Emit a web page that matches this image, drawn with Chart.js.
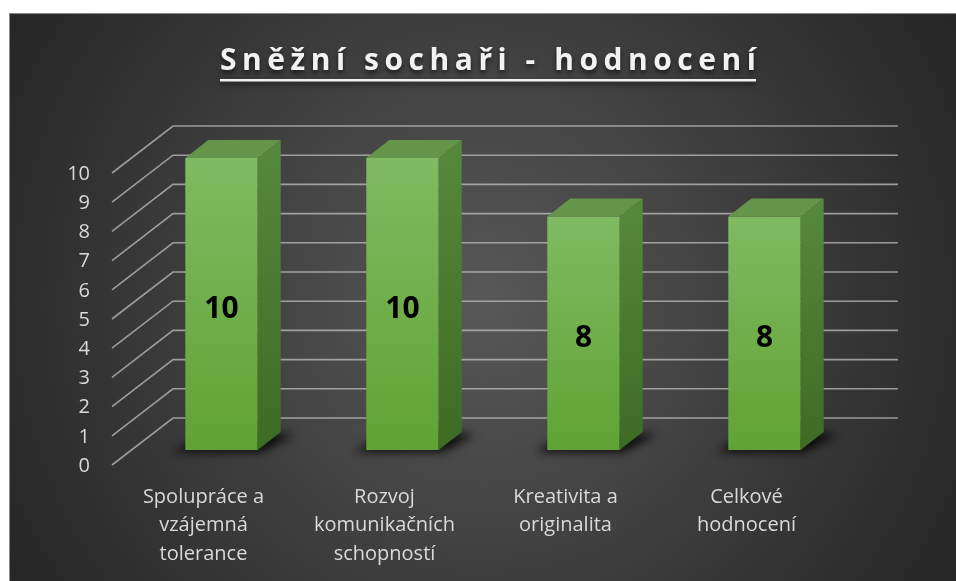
<!DOCTYPE html>
<html>
<head>
<meta charset="utf-8">
<title>Sněžní sochaři - hodnocení</title>
<script src="https://cdn.jsdelivr.net/npm/chart.js@4/dist/chart.umd.min.js"></script>
<style>
    html, body { margin: 0; padding: 0; background: #fff; overflow: hidden; }
    canvas { display: block; }
</style>
</head>
<body>
<canvas id="snowChart" width="956" height="581"></canvas>
<script>
// chart data
const chartTitle = 'Sněžní sochaři - hodnocení';
const categories = [
    ['Spolupráce a', 'vzájemná', 'tolerance'],
    ['Rozvoj', 'komunikačních', 'schopností'],
    ['Kreativita a', 'originalita'],
    ['Celkové', 'hodnocení']
];
const scores = [10, 10, 8, 8];
const yTicks = [0, 1, 2, 3, 4, 5, 6, 7, 8, 9, 10];

const FONT = "'Open Sans', 'DejaVu Sans', sans-serif";

// fake 3d: bar depth and floor depth (gridlines)
const depthX = 23, depthY = 18;
const wallX = 61, wallY = 47;

// dark radial background + white margin
const backgroundPlugin = {
    id: 'background',
    beforeDraw(chart) {
        const ctx = chart.ctx;
        const w = chart.width, h = chart.height;
        ctx.save();
        ctx.fillStyle = '#fff';
        ctx.fillRect(0, 0, w, h);
        const g = ctx.createRadialGradient(482, 300, 0, 482, 300, 560);
        g.addColorStop(0, '#585858');
        g.addColorStop(0.5, '#3e3e3e');
        g.addColorStop(0.85, '#2c2c2c');
        g.addColorStop(1, '#262626');
        ctx.fillStyle = g;
        ctx.fillRect(9, 13, w - 9, h - 13);
        ctx.strokeStyle = '#8c8c8c';
        ctx.lineWidth = 1;
        ctx.beginPath();
        ctx.moveTo(9.5, h);
        ctx.lineTo(9.5, 13.5);
        ctx.lineTo(w, 13.5);
        ctx.stroke();
        ctx.restore();
    }
};

// gridlines on floor/back wall and the shadows under the bars
const wallPlugin = {
    id: 'wall',
    beforeDatasetsDraw(chart) {
        const { ctx, chartArea: a, scales: { y } } = chart;
        ctx.save();
        ctx.strokeStyle = 'rgba(200,200,200,0.7)';
        ctx.lineWidth = 1.6;
        yTicks.forEach(v => {
            const py = y.getPixelForValue(v);
            ctx.beginPath();
            ctx.moveTo(a.left - 19, py + 15);
            ctx.lineTo(a.left - 19 + wallX, py + 15 - wallY);
            ctx.lineTo(a.right + 43, py + 15 - wallY);
            ctx.stroke();
        });

        chart.getDatasetMeta(0).data.forEach(bar => {
            const left = bar.x - bar.width / 2;
            const right = bar.x + bar.width / 2;
            const base = bar.base;
            ctx.save();
            ctx.filter = 'blur(5px)';
            ctx.fillStyle = 'rgba(0,0,0,0.85)';
            ctx.beginPath();
            ctx.moveTo(left - 12, base + 2);
            ctx.lineTo(right + 4, base + 2);
            ctx.lineTo(right + depthX + 14, base - depthY + 2);
            ctx.lineTo(left + depthX, base - depthY);
            ctx.closePath();
            ctx.fill();
            ctx.restore();
        });
        ctx.restore();
    },
    afterDatasetsDraw(chart) {
        const ctx = chart.ctx;
        chart.getDatasetMeta(0).data.forEach((bar, i) => {
            const left = bar.x - bar.width / 2;
            const right = bar.x + bar.width / 2;
            const top = bar.y, base = bar.base;
            ctx.save();
            // side face
            const sg = ctx.createLinearGradient(0, top, 0, base);
            sg.addColorStop(0, '#55873c');
            sg.addColorStop(1, '#3e6b24');
            ctx.fillStyle = sg;
            ctx.beginPath();
            ctx.moveTo(right, top);
            ctx.lineTo(right + depthX, top - depthY);
            ctx.lineTo(right + depthX, base - depthY);
            ctx.lineTo(right, base);
            ctx.closePath();
            ctx.fill();
            // top face
            ctx.fillStyle = '#65954a';
            ctx.beginPath();
            ctx.moveTo(left, top);
            ctx.lineTo(left + depthX, top - depthY);
            ctx.lineTo(right + depthX, top - depthY);
            ctx.lineTo(right, top);
            ctx.closePath();
            ctx.fill();
            // value label
            ctx.fillStyle = '#000';
            ctx.font = 'bold 30px ' + FONT;
            ctx.textAlign = 'center';
            ctx.textBaseline = 'middle';
            ctx.fillText(String(scores[i]), bar.x, (top + base) / 2 + 5);
            ctx.restore();
        });
    },
    afterDraw(chart) {
        // underlined title with letter spacing
        const ctx = chart.ctx;
        const cx = 488, baseline = 69.5, targetWidth = 536;
        ctx.save();
        ctx.font = 'bold 30px ' + FONT;
        ctx.letterSpacing = '0px';
        const w0 = ctx.measureText(chartTitle).width;
        const sp = (targetWidth - w0) / (chartTitle.length - 1);
        ctx.letterSpacing = sp + 'px';
        const x0 = cx - targetWidth / 2;
        ctx.shadowColor = 'rgba(0,0,0,0.6)';
        ctx.shadowBlur = 5;
        ctx.shadowOffsetY = 3;
        ctx.fillStyle = '#f2f2f2';
        ctx.textAlign = 'left';
        ctx.textBaseline = 'alphabetic';
        ctx.fillText(chartTitle, x0, baseline);
        ctx.fillRect(x0, 79, targetWidth, 2.5);
        ctx.restore();
    }
};

function frontColor(c) {
    const chart = c.chart;
    const y = chart.scales.y;
    if (!chart.chartArea || !y) return '#6aad45';
    const top = y.getPixelForValue(c.raw);
    const base = y.getPixelForValue(0);
    const g = chart.ctx.createLinearGradient(0, top, 0, base);
    g.addColorStop(0, '#80ba62');
    g.addColorStop(1, '#60a334');
    return g;
}

const ctx = document.getElementById('snowChart');
const snowChart = new Chart(ctx, {
    type: 'bar',
    data: {
        labels: categories,
        datasets: [{
            label: 'Hodnocení',
            data: scores,
            backgroundColor: frontColor,
            borderWidth: 0,
            barPercentage: 0.4,
            categoryPercentage: 1
        }]
    },
    options: {
        responsive: false,
        animation: false,
        layout: { padding: { top: 158, right: 101, bottom: 0, left: 0 } },
        plugins: {
            legend: { display: false },
            tooltip: { enabled: false },
            title: { display: false }
        },
        scales: {
            x: {
                grid: { display: false, drawTicks: false },
                border: { display: false },
                ticks: {
                    color: '#d9d9d9',
                    font: { family: FONT, size: 20, lineHeight: 1.42 },
                    padding: 33,
                    labelOffset: -18,
                    maxRotation: 0,
                    autoSkip: false
                },
                afterFit: s => { s.height = 131; }
            },
            y: {
                min: 0,
                max: 10,
                grid: { display: false, drawTicks: false },
                border: { display: false },
                afterBuildTicks: s => { s.ticks = yTicks.map(v => ({ value: v })); },
                ticks: {
                    color: '#d9d9d9',
                    font: { family: FONT, size: 20 },
                    padding: 41,
                    labelOffset: 16
                },
                afterFit: s => { s.width = 131; }
            }
        }
    },
    plugins: [backgroundPlugin, wallPlugin]
});
</script>
</body>
</html>
